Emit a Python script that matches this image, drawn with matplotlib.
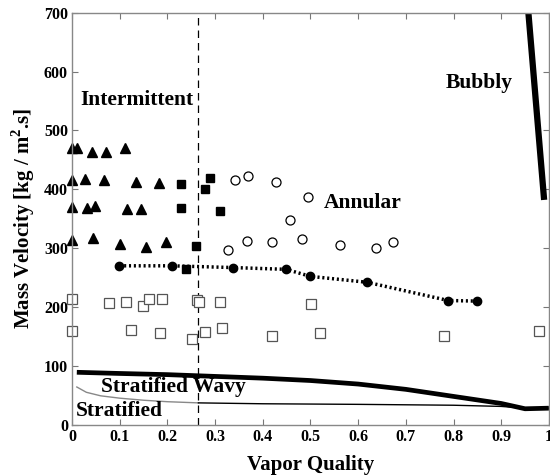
import matplotlib
matplotlib.use("Agg")
import matplotlib.pyplot as plt

plt.rcParams['font.family'] = ['Liberation Serif', 'DejaVu Serif']
plt.rcParams['font.weight'] = 'bold'
plt.rcParams['mathtext.fontset'] = 'custom'
plt.rcParams['mathtext.rm'] = 'Liberation Serif:bold'
plt.rcParams['mathtext.bf'] = 'Liberation Serif:bold'

# Intermittent (filled triangles)
tri_x = [0.0, 0.01, 0.042, 0.071, 0.11,
         0.0, 0.027, 0.066, 0.134, 0.182,
         0.0, 0.031, 0.049, 0.115, 0.144,
         0.0, 0.043, 0.101, 0.156, 0.198]
tri_y = [470, 470, 464, 464, 471,
         416, 418, 416, 413, 411,
         370, 369, 372, 367, 366,
         314, 318, 307, 302, 311]

# filled squares
fsq_x = [0.229, 0.289, 0.278, 0.228, 0.311, 0.259, 0.240]
fsq_y = [409, 420, 400, 368, 364, 303, 264]

# open circles (annular)
oc_x = [0.342, 0.370, 0.428, 0.495, 0.458, 0.328, 0.366, 0.420, 0.483, 0.561, 0.637, 0.673]
oc_y = [415, 423, 412, 387, 348, 297, 313, 310, 316, 306, 301, 311]

# filled circles with dotted line
fc_x = [0.099, 0.209, 0.338, 0.449, 0.500, 0.619, 0.789, 0.849]
fc_y = [270, 270, 267, 264, 252, 242, 211, 210]

# open squares
osq_x = [0.0, 0.078, 0.114, 0.149, 0.161, 0.189, 0.262, 0.267, 0.310, 0.502,
         0.0, 0.124, 0.185, 0.252, 0.278, 0.315, 0.420, 0.521, 0.781, 0.979]
osq_y = [213, 207, 209, 201, 214, 214, 212, 209, 209, 205,
         159, 161, 156, 146, 157, 165, 151, 156, 151, 159]

# stratified-wavy boundary (thick)
sw_x = [0.01, 0.1, 0.2, 0.3, 0.4, 0.5, 0.6, 0.7, 0.8, 0.9, 0.95, 1.0]
sw_y = [89, 87, 85, 82, 79, 75, 69, 60, 48, 36, 27, 28]

# stratified boundary (thin)
st_x = [0.01, 0.03, 0.06, 0.1, 0.15, 0.2, 0.265, 0.4, 0.6, 0.8, 0.9, 0.95, 1.0]
st_y = [64, 55, 49, 45, 41.5, 39, 37, 35.5, 34.5, 33, 31, 28, 28]

# bubbly boundary
bb_x = [0.957, 0.990]
bb_y = [700, 382]

vline_x = 0.265

fig = plt.figure(figsize=(5.5, 4.75), dpi=100)
ax = fig.add_axes([0.131, 0.106, 0.867, 0.867])

ax.plot(st_x[:7], st_y[:7], color='#888888', lw=1.0)
ax.plot(st_x[6:], st_y[6:], color='black', lw=1.0)
ax.plot(sw_x, sw_y, color='black', lw=3.4, solid_capstyle='butt')
ax.plot(bb_x, bb_y, color='black', lw=4.5, solid_capstyle='butt')
ax.axvline(vline_x, color='black', lw=0.9, ls=(0, (6, 4)))

ax.plot(fc_x, fc_y, color='black', lw=2.5, ls=(0, (0.6, 0.8)))
ax.plot(fc_x, fc_y, 'o', color='black', ms=6, ls='none')
ax.plot(tri_x, tri_y, '^', color='black', ms=7, ls='none', clip_on=False)
ax.plot(fsq_x, fsq_y, 's', color='black', ms=6, ls='none')
ax.plot(oc_x, oc_y, 'o', mfc='white', mec='black', mew=0.9, ms=6.5, ls='none')
ax.plot(osq_x, osq_y, 's', mfc='white', mec='#555555', mew=0.9, ms=7, ls='none', clip_on=False)

ax.set_xlim(0, 1)
ax.set_ylim(0, 700)
ax.set_xticks([0, 0.1, 0.2, 0.3, 0.4, 0.5, 0.6, 0.7, 0.8, 0.9, 1])
ax.set_xticklabels(['0', '0.1', '0.2', '0.3', '0.4', '0.5', '0.6', '0.7', '0.8', '0.9', '1'])
ax.set_yticks([0, 100, 200, 300, 400, 500, 600, 700])
ax.tick_params(direction='in', top=True, right=True, length=4, color='#777777',
               labelsize=11.5, pad=3)
for lab in ax.get_xticklabels() + ax.get_yticklabels():
    lab.set_fontweight('bold')
for s in ax.spines.values():
    s.set_color('#888888')
    s.set_linewidth(1.0)

ax.set_xlabel('Vapor Quality', fontsize=15, fontweight='bold', labelpad=7)
ax.set_ylabel(r'Mass Velocity [kg / m$^{2}$.s]', fontsize=15, fontweight='bold', labelpad=5)

tk = dict(fontsize=15.5, fontweight='bold', ha='center', va='center')
ax.text(0.136, 552, 'Intermittent', **tk)
ax.text(0.854, 580, 'Bubbly', **tk)
ax.text(0.610, 376, 'Annular', **tk)
ax.text(0.212, 64, 'Stratified Wavy', **tk)
ax.text(0.10, 24, 'Stratified', **tk)

fig.savefig('out.png', dpi=100)
